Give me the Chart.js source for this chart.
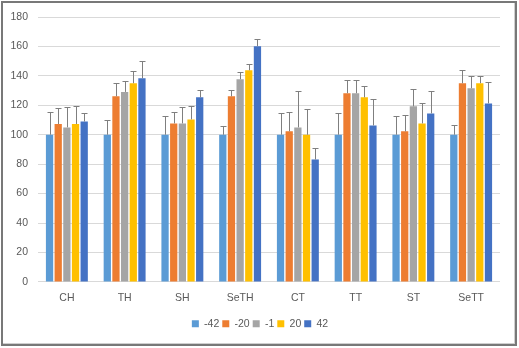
<!DOCTYPE html>
<html>
<head>
<meta charset="utf-8">
<script src="https://cdn.jsdelivr.net/npm/chart.js@4/dist/chart.umd.min.js"></script>
<style>
  html, body { margin: 0; padding: 0; background: #fff; }
  #wrap { position: relative; width: 519px; height: 348px; overflow: hidden; }
  #frame {
    position: absolute; left: 1px; top: 1px; width: 512px; height: 341px;
    border: 2px solid #787878; box-shadow: inset -1px -1px 0 #cfcfcf;
  }
  #c { position: absolute; left: 0; top: 0; }
</style>
</head>
<body>
<div id="wrap">
  <div id="frame"></div>
  <canvas id="c" width="519" height="348"></canvas>
</div>
<script>
// Groups along the x axis
const categories = ['CH', 'TH', 'SH', 'SeTH', 'CT', 'TT', 'ST', 'SeTT'];
const seriesNames = ['-42', '-20', '-1', '20', '42'];

// Mean values per series
const valsM42 = [100, 100, 100, 100, 100, 100, 100, 100];
const valsM20 = [107.3, 126.1, 107.7, 126.1, 102.3, 128.2, 102.3, 135.0];
const valsM1  = [105.0, 129.1, 107.7, 137.7, 105.0, 128.2, 119.3, 131.6];
const valsP20 = [107.3, 135.0, 110.4, 143.8, 100.0, 125.4, 107.7, 135.0];
const valsP42 = [109.0, 138.4, 125.4, 160.2, 83.2, 106.3, 114.5, 121.3];

// Upper error amounts per series
const errM42 = [15.2, 10.0, 13.0, 6.1, 14.5, 14.5, 12.5, 6.3];
const errM20 = [10.7, 8.9, 8.0, 4.6, 12.9, 8.8, 10.9, 8.8];
const errM1  = [14.0, 7.7, 11.3, 4.8, 24.5, 8.8, 11.6, 8.6];
const errP20 = [12.5, 8.0, 9.4, 4.4, 17.2, 7.5, 13.6, 5.2];
const errP42 = [5.5, 11.4, 5.3, 4.6, 8.1, 17.8, 15.0, 14.6];

// Y axis ticks
const yTicks = [0, 20, 40, 60, 80, 100, 120, 140, 160, 180];

const colors = ['#5B9BD5', '#ED7D31', '#A5A5A5', '#FFC000', '#4472C4'];
const values = [valsM42, valsM20, valsM1, valsP20, valsP42];
const errors = [errM42, errM20, errM1, errP20, errP42];

const fontFamily = "'Liberation Sans', Arial, sans-serif";
const textColor = '#595959';

// Draws one-sided (upper) error bars with caps on top of each bar
const errorBarPlugin = {
  id: 'errorBars',
  afterDatasetsDraw(chart) {
    const ctx = chart.ctx;
    const y = chart.scales.y;
    ctx.save();
    ctx.strokeStyle = '#7f7f7f';
    ctx.lineWidth = 1;
    chart.data.datasets.forEach((ds, di) => {
      const meta = chart.getDatasetMeta(di);
      meta.data.forEach((bar, i) => {
        const v = ds.data[i];
        const e = ds.errorUp[i];
        const x = Math.round(bar.x) + 0.5;
        const y0 = y.getPixelForValue(v);
        const y1 = Math.round(y.getPixelForValue(v + e)) + 0.5;
        ctx.beginPath();
        ctx.moveTo(x, y0);
        ctx.lineTo(x, y1);
        ctx.moveTo(x - 3, y1);
        ctx.lineTo(x + 3, y1);
        ctx.stroke();
      });
    });
    ctx.restore();
  }
};

// Centres the legend row on the whole canvas width rather than the padded box
const legendShiftPlugin = {
  id: 'legendShift',
  afterLayout(chart) {
    const lg = chart.legend;
    if (lg) { lg.left += 10; lg.right += 10; }
  }
};

new Chart(document.getElementById('c'), {
  type: 'bar',
  data: {
    labels: categories,
    datasets: seriesNames.map((name, i) => ({
      label: name,
      data: values[i],
      errorUp: errors[i],
      backgroundColor: colors[i],
      borderWidth: 0,
      barPercentage: 0.84,
      categoryPercentage: 0.75
    }))
  },
  options: {
    responsive: false,
    animation: false,
    devicePixelRatio: 1,
    layout: { padding: { left: 0, right: 19, top: 17, bottom: 9 } },
    plugins: {
      tooltip: { enabled: false },
      legend: {
        position: 'bottom',
        labels: {
          boxWidth: 7,
          boxHeight: 7,
          padding: 3,
          color: textColor,
          font: { family: fontFamily, size: 10.5 }
        }
      }
    },
    scales: {
      x: {
        afterFit(s) { s.height += 9; },
        grid: { display: false },
        border: { display: false },
        ticks: { color: textColor, font: { family: fontFamily, size: 10.5 }, padding: 2 }
      },
      y: {
        min: 0,
        max: 180,
        afterBuildTicks(s) { s.ticks = yTicks.map(v => ({ value: v })); },
        afterFit(s) { s.width = 38; },
        grid: { color: '#d9d9d9', lineWidth: 1, drawTicks: false },
        border: { display: false },
        ticks: { color: textColor, font: { family: fontFamily, size: 10.5 }, padding: 10 }
      }
    }
  },
  plugins: [errorBarPlugin, legendShiftPlugin]
});
</script>
</body>
</html>
